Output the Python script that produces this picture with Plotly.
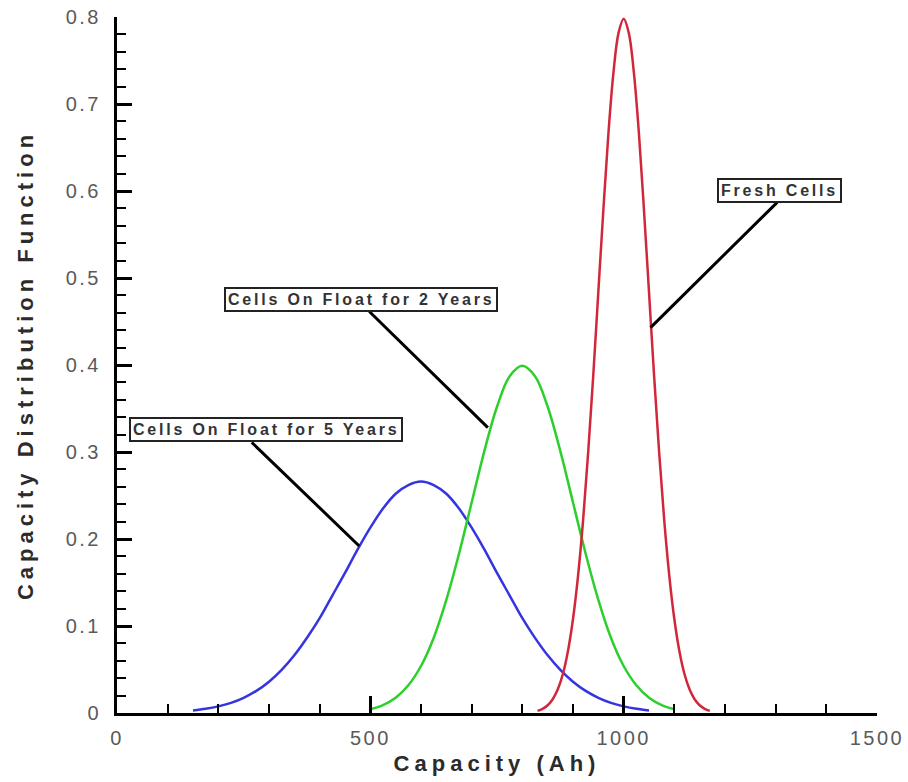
import plotly.graph_objects as go

# ---- data ----
cap_5yr = [150, 175, 200, 225, 250, 275, 300, 325, 350, 375, 400, 425, 450, 475, 500, 525, 550, 575,
           600, 625, 650, 675, 700, 725, 750, 775, 800, 825, 850, 875, 900, 925, 950, 975, 1000, 1025, 1050]
cdf_5yr = [0.003, 0.0048, 0.0076, 0.0117, 0.0175, 0.0254, 0.036, 0.0496, 0.0663, 0.0864, 0.109, 0.135,
           0.161, 0.188, 0.213, 0.235, 0.252, 0.262, 0.266, 0.262, 0.252, 0.235, 0.213, 0.188, 0.161,
           0.135, 0.109, 0.0864, 0.0663, 0.0496, 0.036, 0.0254, 0.0175, 0.0117, 0.0076, 0.0048, 0.003]

cap_2yr = [500, 525, 550, 575, 600, 625, 650, 675, 700, 725, 750, 775, 800, 825, 850, 875, 900, 925,
           950, 975, 1000, 1025, 1050, 1075, 1100]
cdf_2yr = [0.0044, 0.0091, 0.0175, 0.0318, 0.054, 0.0863, 0.130, 0.183, 0.242, 0.301, 0.352, 0.387,
           0.399, 0.387, 0.352, 0.301, 0.242, 0.183, 0.130, 0.0863, 0.054, 0.0318, 0.0175, 0.0091, 0.0044]

cap_fresh = [830, 840, 850, 860, 870, 880, 890, 900, 910, 920, 930, 940, 950, 960, 970, 980, 990,
             1000, 1010, 1020, 1030, 1040, 1050, 1060, 1070, 1080, 1090, 1100, 1110, 1120, 1130,
             1140, 1150, 1160, 1170]
cdf_fresh = [0.0025, 0.0048, 0.0089, 0.0158, 0.0272, 0.0448, 0.071, 0.108, 0.158, 0.222, 0.300, 0.388,
             0.484, 0.579, 0.667, 0.737, 0.782, 0.798, 0.782, 0.737, 0.667, 0.579, 0.484, 0.388, 0.300,
             0.222, 0.158, 0.108, 0.071, 0.0448, 0.0272, 0.0158, 0.0089, 0.0048, 0.0025]

x_ticks = [0, 500, 1000, 1500]
y_ticks = [0, 0.1, 0.2, 0.3, 0.4, 0.5, 0.6, 0.7, 0.8]
x_tick_labels = ["0", "500", "1000", "1500"]
y_tick_labels = ["0", "0.1", "0.2", "0.3", "0.4", "0.5", "0.6", "0.7", "0.8"]

label_fresh = "Fresh Cells"
label_2yr = "Cells On Float for 2 Years"
label_5yr = "Cells On Float for 5 Years"


def spaced(text, px):
    return f'<span style="letter-spacing:{px}px">{text}</span>'


fig = go.Figure()
fig.add_trace(go.Scatter(x=cap_5yr, y=cdf_5yr, mode="lines", line=dict(color="#3434e0", width=2.5, shape="spline"),
                         name=label_5yr))
fig.add_trace(go.Scatter(x=cap_2yr, y=cdf_2yr, mode="lines", line=dict(color="#2ccf2c", width=2.5, shape="spline"),
                         name=label_2yr))
fig.add_trace(go.Scatter(x=cap_fresh, y=cdf_fresh, mode="lines", line=dict(color="#d0283a", width=2.5, shape="spline"),
                         name=label_fresh))

tick_font = dict(family="Liberation Sans, Arial", size=20, color="#5a5a5a")

fig.update_xaxes(
    range=[0, 1500], tickvals=x_ticks, ticktext=[spaced(t, 2.5) for t in x_tick_labels],
    ticks="inside", ticklen=17, tickwidth=3, tickcolor="black",
    minor=dict(ticks="inside", ticklen=9, tickwidth=2, tickcolor="black", dtick=100),
    showline=True, linecolor="black", linewidth=3, showgrid=False, zeroline=False,
    tickfont=tick_font, ticklabelstandoff=5, automargin=False, ticklabeloverflow="allow",
    title=dict(text=spaced("<b>Capacity (Ah)</b>", 5),
               font=dict(family="Liberation Sans, Arial", size=22, color="#2b2b2b"), standoff=8),
)
fig.update_yaxes(
    range=[0, 0.8], tickvals=y_ticks, ticktext=[spaced(t, 2.5) for t in y_tick_labels],
    ticks="inside", ticklen=15, tickwidth=3, tickcolor="black",
    minor=dict(ticks="inside", ticklen=9, tickwidth=2, tickcolor="black", dtick=0.02),
    showline=True, linecolor="black", linewidth=3, showgrid=False, zeroline=False,
    tickfont=tick_font, ticklabelstandoff=9, automargin=False, ticklabeloverflow="allow",
    title=dict(text=spaced("<b>Capacity Distribution Function</b>", 5),
               font=dict(family="Liberation Sans, Arial", size=22, color="#2b2b2b"), standoff=26),
)

ann_font = dict(family="Liberation Sans, Arial", size=16, color="#333333")
for txt, ax_, ay_ in [(label_fresh, 1307, 0.6005), (label_2yr, 482, 0.475), (label_5yr, 295, 0.326)]:
    fig.add_annotation(x=ax_, y=ay_, xref="x", yref="y", text=spaced("<b>" + txt + "</b>", 2.8),
                       showarrow=False, font=ann_font, bgcolor="white", bordercolor="#222222",
                       borderwidth=2, borderpad=2)

for x0, y0, x1, y1 in [(1303, 0.587, 1053, 0.443), (498, 0.4615, 732, 0.328), (266, 0.311, 478, 0.192)]:
    fig.add_shape(type="line", x0=x0, y0=y0, x1=x1, y1=y1, xref="x", yref="y",
                  line=dict(color="black", width=3))

fig.update_layout(
    width=908, height=782, margin=dict(l=117, r=31, t=17, b=69),
    plot_bgcolor="white", paper_bgcolor="white", showlegend=False,
)

# remove the default 8px page margin so the figure fills the window exactly
fig.write_html("out.html", config={"displayModeBar": False},
               post_script="document.body.style.margin='0';")
